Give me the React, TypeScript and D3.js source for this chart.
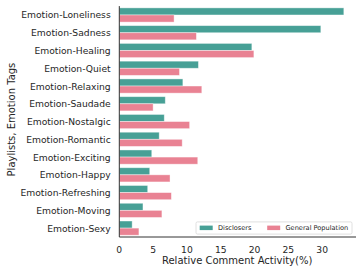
import React from 'react';
import * as d3 from 'd3';

const categories = [
  'Emotion-Loneliness',
  'Emotion-Sadness',
  'Emotion-Healing',
  'Emotion-Quiet',
  'Emotion-Relaxing',
  'Emotion-Saudade',
  'Emotion-Nostalgic',
  'Emotion-Romantic',
  'Emotion-Exciting',
  'Emotion-Happy',
  'Emotion-Refreshing',
  'Emotion-Moving',
  'Emotion-Sexy',
];
const disclosers = [33.2, 29.8, 19.6, 11.7, 9.4, 6.8, 6.65, 5.9, 4.8, 4.5, 4.2, 3.5, 1.9];
const general = [8.1, 11.4, 19.9, 8.9, 12.2, 5.0, 10.4, 9.3, 11.6, 7.5, 7.7, 6.3, 2.9];
const seriesNames = ['Disclosers', 'General Population'];
const seriesColors = ['#47a096', '#e98293'];
const xTicks = [0, 5, 10, 15, 20, 25, 30];

const W = 362;
const H = 273;
const margin = { left: 119.3, right: 6, top: 6.1, bottom: 36 };
const font = 'DejaVu Sans, sans-serif';

export default function App() {
  const x = d3.scaleLinear().domain([0, 35]).range([margin.left, W - margin.right]);
  const y = d3
    .scaleBand<string>()
    .domain(categories)
    .range([margin.top, H - margin.bottom])
    .paddingInner(0.2)
    .paddingOuter(0.1);
  const sub = d3.scaleBand<number>().domain([0, 1]).range([0, y.bandwidth()]);
  const series = [disclosers, general];
  const bottom = H - margin.bottom;

  return (
    <svg width={W} height={H} style={{ position: 'absolute', left: 0, top: 0, background: '#fff' }}>
      {series.map((vals, si) =>
        vals.map((v, i) => (
          <rect
            key={`${si}-${i}`}
            x={x(0)}
            y={(y(categories[i]) ?? 0) + (sub(si) ?? 0)}
            width={x(v) - x(0)}
            height={sub.bandwidth()}
            fill={seriesColors[si]}
            stroke="#ffffff"
            strokeOpacity={0.5}
            strokeWidth={0.8}
          />
        ))
      )}
      <line x1={x(0)} x2={x(0)} y1={margin.top} y2={bottom} stroke="#333" strokeWidth={1} />
      <line x1={x(0)} x2={W - margin.right} y1={bottom} y2={bottom} stroke="#333" strokeWidth={1} />
      {categories.map((c) => (
        <text
          key={c}
          x={x(0) - 8.6}
          y={(y(c) ?? 0) + y.bandwidth() / 2}
          textAnchor="end"
          dominantBaseline="central"
          fontFamily={font}
          fontSize={9.2}
          fill="#262626"
        >
          {c}
        </text>
      ))}
      {xTicks.map((t) => (
        <text
          key={t}
          x={x(t)}
          y={bottom + 12.5}
          textAnchor="middle"
          dominantBaseline="central"
          fontFamily={font}
          fontSize={9.2}
          fill="#262626"
        >
          {t}
        </text>
      ))}
      <text
        x={(x(0) + x(35)) / 2 - 0.5}
        y={264}
        textAnchor="middle"
        fontFamily={font}
        fontSize={10}
        fill="#262626"
      >
        Relative Comment Activity(%)
      </text>
      <text
        transform={`translate(14.5, ${(margin.top + bottom) / 2 - 2}) rotate(-90)`}
        textAnchor="middle"
        fontFamily={font}
        fontSize={10}
        fill="#262626"
      >
        Playlists, Emotion Tags
      </text>
      <g>
        <rect x={196} y={221.9} width={156} height={12.2} rx={1.5} fill="#fff" fillOpacity={0.85} stroke="#d8d8d8" strokeWidth={0.8} />
        {seriesNames.map((n, i) => {
          const lx = i === 0 ? 199.7 : 267.2;
          return (
            <g key={n}>
              <rect x={lx} y={225.6} width={13} height={4.5} fill={seriesColors[i]} />
              <text x={lx + 18.3} y={227.9} dominantBaseline="central" fontFamily={font} fontSize={6.6} fill="#262626">
                {n}
              </text>
            </g>
          );
        })}
      </g>
    </svg>
  );
}
